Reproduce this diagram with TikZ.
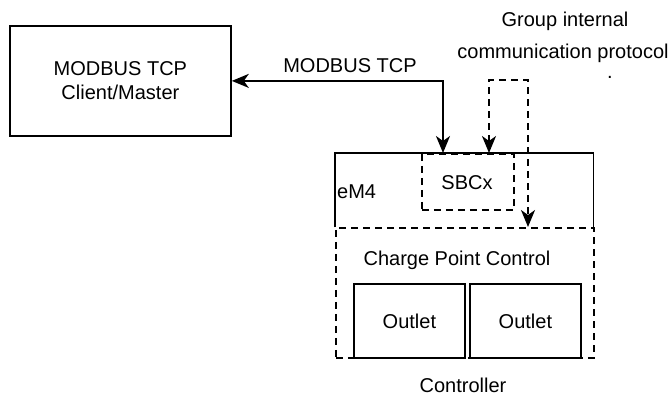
\documentclass[tikz,border=0pt]{standalone}
\usepackage{fontspec}
\setmainfont{Liberation Sans}
\usetikzlibrary{arrows.meta}
\begin{document}
\begin{tikzpicture}[x=1pt,y=-1pt,
  lbl/.style={font=\fontsize{20}{24}\selectfont, inner sep=0pt},
  box/.style={draw, line width=1.8pt, inner sep=0pt},
  dbox/.style={draw, line width=1.8pt, dash pattern=on 7pt off 5pt, inner sep=0pt},
  tip/.tip={Stealth[length=17pt 0,width=14pt 0,inset=5pt 0]},
  conn/.style={line width=1.8pt, tip-tip},
]
\useasboundingbox (0,0) rectangle (671,396);
% client
\node[box, minimum width=221pt, minimum height=110pt, anchor=north west,
      align=center, lbl] (client) at (9,25) {MODBUS TCP\\Client/Master};
% eM4 (open bottom)
\node[minimum width=258pt, minimum height=74pt, anchor=north west, inner sep=0pt] (em4) at (335,153) {};
\draw[line width=1.8pt] (em4.south west) -- (em4.north west) -- (em4.north east) -- (em4.south east);
\node[lbl, anchor=west] (em4lbl) at (337,192) {eM4};
% SBCx
\node[dbox, minimum width=92pt, minimum height=56pt, anchor=north west] (sbc) at (421,153) {};
\node[lbl] (sbclbl) at (467,183) {SBCx};
% Charge Point Control
\node[dbox, minimum width=258pt, minimum height=130pt, anchor=north west] (cpc) at (335,227) {};
\node[lbl] (cpclbl) at (457,260) {Charge Point Control};
% Outlets
\node[box, fill=white, minimum width=111pt, minimum height=74pt, anchor=north west, lbl] (o1) at (353,283) {Outlet};
\node[box, fill=white, minimum width=111pt, minimum height=74pt, anchor=north west, lbl] (o2) at (469,283) {Outlet};
% labels
\node[lbl] (ctrl) at (463,385) {Controller};
\node[lbl] (mtcp) at (350,66) {MODBUS TCP};
\node[lbl] (gi1) at (565,21) {Group internal};
\node[lbl] (gi2) at (563,53) {communication protocol};
\node[lbl, text height=2pt, text depth=0pt, anchor=south] (dot) at (610,79) {.};
% connectors
\coordinate (mt) at (443,153);
\draw[conn] (client.east) -| (mt);
\coordinate (s1) at (489,153);
\coordinate (c1) at (528,227);
\coordinate (top) at (0,80);
\draw[conn, dash pattern=on 7pt off 5pt] (s1) -- (s1 |- top) -| (c1);
\end{tikzpicture}
\end{document}
